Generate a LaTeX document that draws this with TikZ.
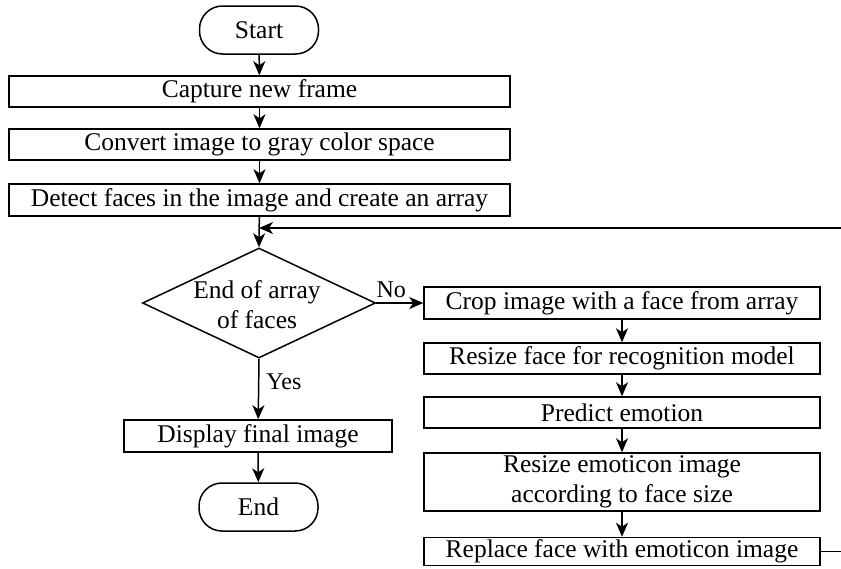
\documentclass[tikz,border=0pt]{standalone}
\usepackage{fontspec}
\setmainfont{Liberation Serif}
\usetikzlibrary{arrows.meta,shapes.geometric}
\begin{document}
\begin{tikzpicture}[x=1pt,y=-1pt,
  every node/.style={font=\fontsize{25.5}{30}\selectfont, inner sep=0pt},
  proc/.style={draw, line width=1.5pt, rectangle, align=center, minimum height=31pt},
  term/.style={draw, line width=1.5pt, rectangle, rounded corners=23pt,
               minimum width=119pt, minimum height=48pt},
  decide/.style={draw, line width=1.5pt, diamond, minimum width=233pt,
                 minimum height=110pt},
  flow/.style={line width=1.5pt, -{Stealth[length=14pt,width=12pt,inset=4pt]}},
  tag/.style={font=\fontsize{24}{28}\selectfont}]
  \useasboundingbox (0,0) rectangle (841,568);
  \clip (0,0) rectangle (841,568);

  % main column
  \node[term] (start) at (259,30) {Start};
  \node[proc, minimum width=501pt] (cap) at (259.5,91.5) {Capture new frame};
  \node[proc, minimum width=501pt] (conv) at (259.5,144.5) {Convert image to gray color space};
  \node[proc, minimum width=501pt, minimum height=32pt] (det) at (259.5,200) {Detect faces in the image and create an array};
  \node[decide] (dec) at (259,303) {};
  \node[align=center] (dectext) at (257,305) {End of array\\of faces};
  \node[proc, minimum width=268pt, minimum height=32pt] (disp) at (258,436) {Display final image};
  \node[term] (end) at (258.5,507) {End};

  % per-face column
  \node[proc, minimum width=396pt, minimum height=32pt] (crop) at (622,303) {Crop image with a face from array};
  \node[proc, minimum width=396pt] (rsz) at (622,358.5) {Resize face for recognition model};
  \node[proc, minimum width=396pt] (pred) at (622,412.5) {Predict emotion};
  \node[proc, minimum width=396pt, minimum height=58pt] (remo) at (622,482) {Resize emoticon image\\according to face size};
  \node[proc, minimum width=396pt, minimum height=28pt] (rep) at (622,551.5) {Replace face with emoticon image};

  % connectors
  \coordinate (join) at (259,228);
  \coordinate (loopright) at (860,551.5);
  \draw[flow] (start) -- (cap);
  \draw[flow] (cap) -- (conv);
  \draw[flow] (conv) -- (det);
  \draw[flow] (det) -- (dec.north);
  \draw[flow] (dec.south) -- (disp) node[tag, pos=0.38, anchor=west, xshift=7pt] {Yes};
  \draw[flow] (disp) -- (end);
  \draw[flow] (dec.east) -- (crop.west) node[tag, pos=0.32, anchor=south, yshift=5pt] {No};
  \draw[flow] (crop) -- (rsz);
  \draw[flow] (rsz) -- (pred);
  \draw[flow] (pred) -- (remo);
  \draw[flow] (remo) -- (rep);
  \draw[flow] (rep.east) -- (loopright) |- (join);
\end{tikzpicture}
\end{document}
